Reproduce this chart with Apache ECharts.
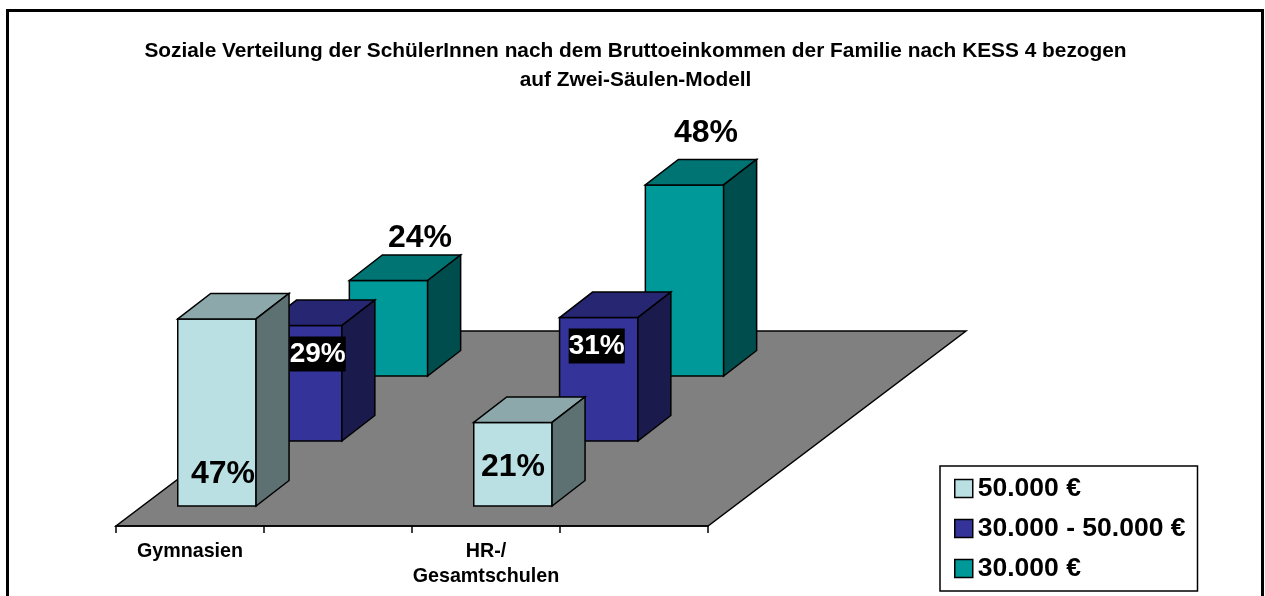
<!DOCTYPE html>
<html>
<head>
<meta charset="utf-8">
<style>html,body{margin:0;padding:0;background:#fff}#c{width:1265px;height:596px}</style>
<script src="https://cdn.jsdelivr.net/npm/echarts@6/dist/echarts.min.js"></script>
</head>
<body>
<div id="c"></div>
<script>
const titleText = "Soziale Verteilung der SchülerInnen nach dem Bruttoeinkommen der Familie nach KESS 4 bezogen\nauf Zwei-Säulen-Modell";
const categories = ["Gymnasien", "", "HR-/\nGesamtschulen", ""];
const seriesNames = ["50.000 €", "30.000 - 50.000 €", "30.000 €"];
const low = [47, null, 21, null];
const mid = [29, null, 31, null];
const high = [24, null, 48, null];

const FONT = '"Liberation Sans", Arial, sans-serif';
const frontColors = ["#BAE0E3", "#333399", "#009999"];
const topColors = ["#8CA8AA", "#262673", "#007373"];
const sideColors = ["#5D7072", "#1A1A4D", "#004D4D"];
// perspective layout of each row on the floor (style constants)
const rowShift = [[26.9, -20], [112.7, -85], [198.5, -150]];
const barWidth = 78.3;
const barDepth = [33, -25.5];
const floorDepth = [258, -195];
const labelOffsets = [
  [[6, 155.5], null, [0, 45], null],
  [[15, 28.5], null, [-2, 28.5], null],
  [[31.5, -42], null, [21.5, -52], null]
];
const labelStyles = [
  {size: 32, fill: "#000"},
  {size: 28, fill: "#fff", bg: "#000"},
  {size: 32, fill: "#000"}
];

function poly(points, fill) {
  return {type: "polygon", shape: {points},
    style: {fill, stroke: "#000", lineWidth: 1.5, lineJoin: "miter"}};
}

function barRenderer(row) {
  return function (params, api) {
    const cat = api.value(0), val = api.value(1);
    const base = api.coord([cat, 0]), top = api.coord([cat, val]);
    const cx = base[0] + rowShift[row][0];
    const l = cx - barWidth / 2, r = cx + barWidth / 2;
    const yb = base[1] + rowShift[row][1], yt = top[1] + rowShift[row][1];
    const dx = barDepth[0], dy = barDepth[1];
    const off = labelOffsets[row][cat];
    const ls = labelStyles[row];
    const textStyle = {
      text: val + "%", x: cx + off[0], y: yt + off[1],
      align: "center", verticalAlign: "middle",
      font: "bold " + ls.size + "px " + FONT, fill: ls.fill
    };
    if (ls.bg) { textStyle.backgroundColor = ls.bg; textStyle.padding = [3, 0, 4, 0]; }
    return {type: "group", children: [
      poly([[l, yt], [r, yt], [r, yb], [l, yb]], frontColors[row]),
      poly([[l, yt], [l + dx, yt + dy], [r + dx, yt + dy], [r, yt]], topColors[row]),
      poly([[r, yt], [r + dx, yt + dy], [r + dx, yb + dy], [r, yb]], sideColors[row]),
      {type: "text", style: textStyle}
    ]};
  };
}

function barSeries(name, values, row) {
  return {
    type: "custom", name, z: 5 - row + 2, clip: false,
    coordinateSystem: "cartesian2d",
    encode: {x: 0, y: 1},
    itemStyle: {color: frontColors[row]},
    data: values.map((v, i) => [i, v]).filter(d => d[1] !== null),
    renderItem: barRenderer(row)
  };
}

const chart = echarts.init(document.getElementById("c"), null, {renderer: "canvas"});
chart.setOption({
  animation: false,
  backgroundColor: "#fff",
  title: {
    text: titleText, left: 630.5, top: 31.5, textAlign: "center",
    textStyle: {fontFamily: FONT, fontWeight: "bold", fontSize: 20.85, lineHeight: 29, color: "#000"}
  },
  graphic: [{
    type: "rect", silent: true, z: 0,
    shape: {x: 7.5, y: 10.5, width: 1255, height: 700},
    style: {fill: "none", stroke: "#000", lineWidth: 3}
  }],
  grid: {left: 116, width: 592, bottom: 70, top: 128, containLabel: false},
  xAxis: {
    type: "category", data: categories, z: 3,
    axisLine: {show: true, lineStyle: {color: "#000", width: 1.5}},
    axisTick: {show: true, alignWithLabel: false, interval: 0, length: 7, lineStyle: {color: "#000", width: 1.5}},
    axisLabel: {interval: 0, margin: 13, color: "#000", fontFamily: FONT, fontWeight: "bold", fontSize: 19.7, lineHeight: 25}
  },
  yAxis: {type: "value", min: 0, max: 100, show: false},
  legend: {
    data: seriesNames, orient: "vertical", left: 940, top: 466, height: 300,
    padding: [9, 12, 9, 14], itemWidth: 18, itemHeight: 18, itemGap: 13, icon: "rect",
    backgroundColor: "#fff", borderColor: "#000", borderWidth: 1.5, borderRadius: 0,
    itemStyle: {borderColor: "#000", borderWidth: 1.5},
    textStyle: {fontFamily: FONT, fontWeight: "bold", fontSize: 26.5, lineHeight: 22, color: "#000"},
    selectedMode: false, itemTextGap: 6
  },
  series: [
    {
      type: "custom", name: "floor", z: 2, clip: false,
      coordinateSystem: "cartesian2d", encode: {x: 0, y: 1},
      data: [[0, 0]],
      renderItem(params) {
        const c = params.coordSys, y = c.y + c.height;
        return poly([[c.x, y], [c.x + c.width, y],
          [c.x + c.width + floorDepth[0], y + floorDepth[1]],
          [c.x + floorDepth[0], y + floorDepth[1]]], "#808080");
      }
    },
    barSeries(seriesNames[2], high, 2),
    barSeries(seriesNames[1], mid, 1),
    barSeries(seriesNames[0], low, 0)
  ]
});
</script>
</body>
</html>
